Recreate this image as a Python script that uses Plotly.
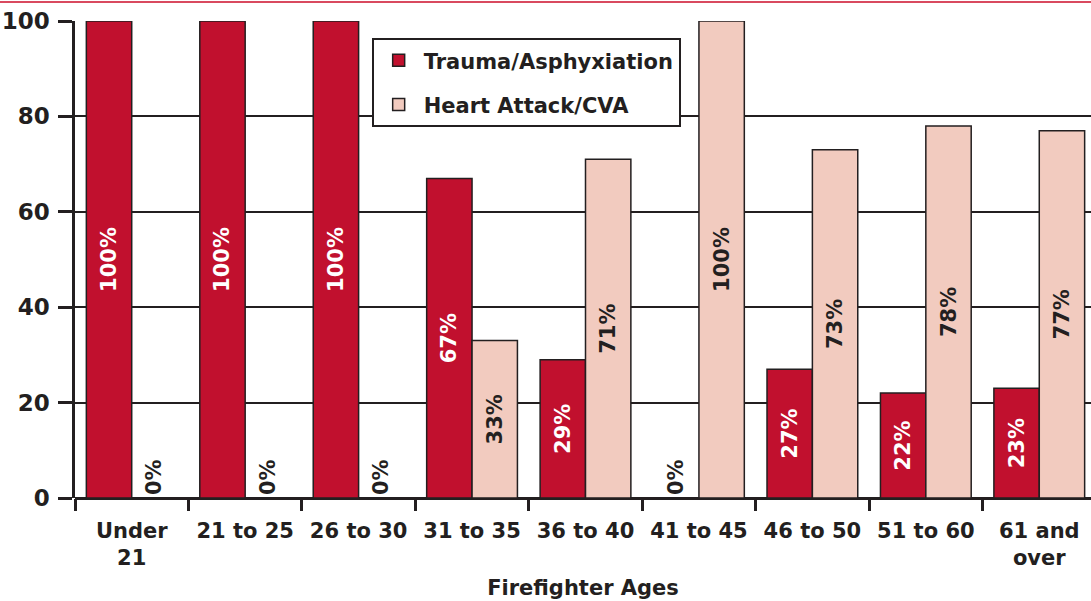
import plotly.graph_objects as go

categories = ["Under<br>21", "21 to 25", "26 to 30", "31 to 35", "36 to 40",
              "41 to 45", "46 to 50", "51 to 60", "61 and<br>over"]
trauma = [100, 100, 100, 67, 29, 0, 27, 22, 23]
heart = [0, 0, 0, 33, 71, 100, 73, 78, 77]
y_ticks = [0, 20, 40, 60, 80, 100]

RED = "#c1102e"
PINK = "#f2cbbf"
INK = "#231f20"
FONT = "DejaVu Sans"

def labels(vals):
    return [f"{v}%" for v in vals]

def positions(vals):
    return ["outside" if v == 0 else "inside" for v in vals]

fig = go.Figure()
fig.add_trace(go.Bar(
    name="Trauma/Asphyxiation", x=categories, y=trauma, legendgroup="a",
    marker=dict(color=RED, line=dict(color=INK, width=1.5)),
    text=labels(trauma), textposition=positions(trauma), textangle=-90,
    insidetextanchor="middle",
    insidetextfont=dict(family=FONT, size=21, color="white", weight="bold"),
    outsidetextfont=dict(family=FONT, size=21, color=INK, weight="bold"),
    cliponaxis=False,
))
fig.add_trace(go.Bar(
    name="Heart Attack/CVA", x=categories, y=heart, legendgroup="b",
    marker=dict(color=PINK, line=dict(color=INK, width=1.5)),
    text=labels(heart), textposition=positions(heart), textangle=-90,
    insidetextanchor="middle",
    insidetextfont=dict(family=FONT, size=21, color=INK, weight="bold"),
    outsidetextfont=dict(family=FONT, size=21, color=INK, weight="bold"),
    cliponaxis=False,
))

fig.update_layout(
    width=1091, height=601,
    margin=dict(l=75, r=0, t=21, b=103, autoexpand=False),
    paper_bgcolor="white", plot_bgcolor="white",
    barmode="group", bargap=0.2, bargroupgap=0,
    font=dict(family=FONT, color=INK),
    uniformtext=dict(minsize=21, mode="show"),
    legend=dict(
        x=0.292, y=0.964, xanchor="left", yanchor="top",
        bgcolor="white", bordercolor=INK, borderwidth=2,
        font=dict(family=FONT, size=21, color=INK, weight="bold"),
        traceorder="grouped", tracegroupgap=14, itemwidth=40,
    ),
    xaxis=dict(
        type="category", range=[-0.5, 8.456], automargin=False,
        showgrid=False, showline=False,
        ticks="outside", tickson="boundaries", ticklen=12, tickwidth=2.5, tickcolor=INK,
        ticklabelstandoff=18,
        tickfont=dict(family=FONT, size=21, color=INK, weight="bold"),
        title=dict(text="Firefighter Ages", standoff=11,
                   font=dict(family=FONT, size=21, color=INK, weight="bold")),
    ),
    yaxis=dict(
        range=[0, 100], tickvals=y_ticks, automargin=False,
        showgrid=True, gridcolor=INK, gridwidth=2,
        zeroline=True, zerolinecolor=INK, zerolinewidth=3,
        showline=True, linecolor=INK, linewidth=2.5,
        ticks="outside", ticklen=14, tickwidth=2.5, tickcolor=INK,
        ticklabelstandoff=4,
        tickfont=dict(family=FONT, size=23, color=INK, weight="bold"),
    ),
    shapes=[dict(type="line", xref="paper", yref="paper",
                 x0=-0.2, x1=1.2, y0=1.04, y1=1.04,
                 line=dict(color="#d94a5f", width=2))],
)

fig.write_html("out.html", config={"displayModeBar": False},
               post_script="document.body.style.margin='0';")
